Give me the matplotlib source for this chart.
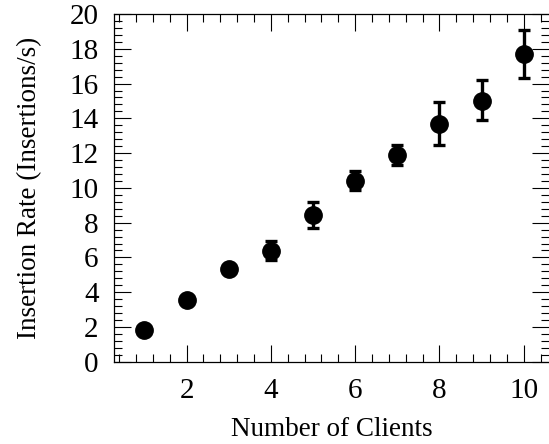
import numpy as np
import matplotlib.pyplot as plt
from matplotlib.ticker import MultipleLocator

# значения
clients = [1, 2, 3, 4, 5, 6, 7, 8, 9, 10]
rate = [1.85, 3.55, 5.33, 6.38, 8.45, 10.39, 11.88, 13.7, 15.01, 17.69]
err_low = [0.1, 0.12, 0.12, 0.55, 0.75, 0.52, 0.58, 1.23, 1.13, 1.36]
err_high = [0.1, 0.12, 0.12, 0.55, 0.75, 0.57, 0.57, 1.24, 1.17, 1.39]

plt.rcParams['font.family'] = ['Liberation Serif', 'DejaVu Serif']

fig = plt.figure(figsize=(5.49, 4.44), dpi=100)
ax = fig.add_axes([0.2077, 0.1853, 0.7923, 0.7831])

ax.errorbar(clients, rate, yerr=[err_low, err_high], fmt='o', color='black',
            markersize=12.5, elinewidth=2.4, capsize=4, capthick=2.4)

ax.set_xlim(0.28, 10.6)
ax.set_ylim(0, 20)
ax.xaxis.set_major_locator(MultipleLocator(2))
ax.xaxis.set_minor_locator(MultipleLocator(0.4))
ax.yaxis.set_major_locator(MultipleLocator(2))
ax.yaxis.set_minor_locator(MultipleLocator(0.4))
ax.set_xticks([2, 4, 6, 8, 10])

ax.tick_params(which='both', direction='in', top=True, right=True,
               labelsize=21, width=0.8)
ax.tick_params(axis='x', pad=12)
ax.tick_params(axis='y', pad=11)
ax.tick_params(which='major', length=12)
ax.tick_params(which='minor', length=6)
ax.spines['right'].set_visible(False)
for s in ['left', 'top', 'bottom']:
    ax.spines[s].set_linewidth(0.9)

ax.set_xlabel('Number of Clients', fontsize=19.5, labelpad=9)
ax.set_ylabel('Insertion Rate (Insertions/s)', fontsize=19.5, labelpad=20)

fig.savefig('out.png', dpi=100)
